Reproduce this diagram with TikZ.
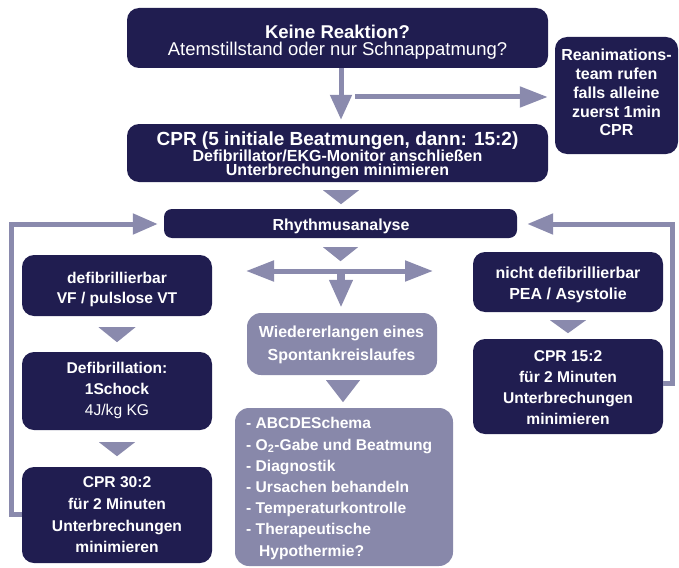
\documentclass[tikz,border=0pt]{standalone}
\usepackage{fontspec}
\setmainfont{Liberation Sans}
\usetikzlibrary{arrows.meta,calc}
\definecolor{navy}{RGB}{32,29,80}
\definecolor{lila}{RGB}{136,136,170}
\definecolor{arrowc}{RGB}{138,138,173}
\begin{document}
\begin{tikzpicture}[x=1pt,y=-1pt,
  dbox/.style={fill=navy, rounded corners=12pt, inner sep=0pt},
  lbox/.style={fill=lila, rounded corners=14pt, inner sep=0pt},
  txt/.style={text=white, inner sep=0pt, align=center, font=\bfseries\fontsize{15.6}{21}\selectfont},
  conn/.style={draw=arrowc, line width=5pt, -{Triangle[length=26pt,width=20pt]}},
  tri/.style={fill=arrowc}]
\useasboundingbox (0,0) rectangle (679,567);

% boxes
\node[dbox, minimum width=421pt, minimum height=60pt] (q1) at (337.5,38) {};
\node[dbox, minimum width=421pt, minimum height=58pt] (cpr) at (337.5,153) {};
\node[dbox, minimum width=123pt, minimum height=117pt] (team) at (616.5,95.5) {};
\node[dbox, rounded corners=8pt, minimum width=353pt, minimum height=29pt] (rhy) at (340.5,223.5) {};
\node[dbox, minimum width=190pt, minimum height=61pt] (defi) at (117,285.5) {};
\node[dbox, minimum width=190pt, minimum height=78pt] (shock) at (117,391) {};
\node[dbox, minimum width=190pt, minimum height=96pt] (cprl) at (117,515) {};
\node[dbox, minimum width=190pt, minimum height=60pt] (ndefi) at (568,282) {};
\node[dbox, minimum width=190pt, minimum height=95pt] (cprr) at (568,386.5) {};
\node[lbox, minimum width=190pt, minimum height=62pt] (rosc) at (342,344) {};
\node[lbox, minimum width=218pt, minimum height=158pt] (list) at (344,487) {};

% texts
\node[txt, font=\fontsize{18.5}{17}\selectfont] (q1t) at (337.5,41.9)
  {\textbf{Keine Reaktion?}\\Atemstillstand oder nur Schnappatmung?};
\node[txt, font={\bfseries\fontsize{16}{14.5}\selectfont\lineskiplimit=-30pt}] (cprt) at (337.5,155.3)
  {{\fontsize{19}{19}\selectfont CPR (5 initiale Beatmungen, dann: 15:2)}\\[1.2pt]Defibrillator/EKG-Monitor anschließen\\Unterbrechungen minimieren};
\node[txt, font=\bfseries\fontsize{16}{18.8}\selectfont] (teamt) at (616.5,92.5)
  {Reanimations-\\team rufen\\falls alleine\\zuerst 1min\\CPR};
\node[txt, font=\bfseries\fontsize{16}{16}\selectfont] (rhyt) at (341,226) {Rhythmusanalyse};
\node[txt, font=\bfseries\fontsize{15.6}{20}\selectfont] (defit) at (117,289) {defibrillierbar\\VF / pulslose VT};
\node[txt] (shockt) at (117,390) {Defibrillation:\\1Schock\\{\mdseries 4J/kg KG}};
\node[txt, font=\bfseries\fontsize{15.6}{21.7}\selectfont] (cprlt) at (117,515) {CPR 30:2\\für 2 Minuten\\Unterbrechungen\\minimieren};
\node[txt, font=\bfseries\fontsize{16}{21}\selectfont] (ndefit) at (568,284.5) {nicht defibrillierbar\\PEA / Asystolie};
\node[txt] (cprrt) at (568,388) {CPR 15:2\\für 2 Minuten\\Unterbrechungen\\minimieren};
\node[txt, font=\bfseries\fontsize{16}{23}\selectfont] (rosct) at (341.5,344.5) {Wiedererlangen eines\\Spontankreislaufes};
\node[txt, align=left, anchor=west, font=\bfseries\fontsize{15.6}{21.2}\selectfont] (listt) at (246,488.5)
  {- ABCDESchema\\- O\textsubscript{2}-Gabe und Beatmung\\- Diagnostik\\- Ursachen behandeln\\- Temperaturkontrolle\\- Therapeutische\\\hspace*{13pt}Hypothermie?};

% connectors
\coordinate (br) at (355,97);
\coordinate (split) at (341,271);
\coordinate (sl) at (246,271);
\coordinate (sr) at (433,271);

\draw[conn, -{Triangle[length=25pt,width=21pt]}] ($(q1.south)+(3.5,0)$) -- ($(cpr.north)+(3.5,-4)$);
\draw[conn, -{Triangle[length=28pt,width=20pt]}] (br) -- ($(team.west)+(-7,1.5)$);
\draw[conn, {Triangle[length=28pt,width=20pt]}-{Triangle[length=28pt,width=20pt]}] (sl) -- (sr);
\draw[conn, line width=8pt, -{Triangle[length=28pt,width=22pt]}] (split) -- ($(rosc.north)+(-1,-5)$);
\draw[conn, -{Triangle[length=25pt,width=20pt]}] ($(cprl.west)+(0,-1)$) -- ++(-10,0) |- ($(rhy.west)+(-6,0.5)$);
\draw[conn, -{Triangle[length=26pt,width=20pt]}] ($(cprr.east)+(0,-3.5)$) -- ++(9,0) |- ($(rhy.east)+(10,0.5)$);

% triangles
\fill[tri] ($(cpr.south)+(-14.5,8)$) -- ++(36,0) -- ++(-18,14) -- cycle;
\fill[tri] ($(rhy.south)+(-17.5,9)$) -- ++(35,0) -- ++(-17.5,14) -- cycle;
\fill[tri] ($(defi.south)+(-18.5,11)$) -- ++(37,0) -- ++(-18.5,15) -- cycle;
\fill[tri] ($(shock.south)+(-18,12)$) -- ++(36,0) -- ++(-18,14) -- cycle;
\fill[tri] ($(ndefi.south)+(-18,8)$) -- ++(36,0) -- ++(-18,13) -- cycle;
\fill[tri] ($(rosc.south)+(-16,5)$) -- ++(34,0) -- ++(-17,22) -- cycle;
\end{tikzpicture}
\end{document}
